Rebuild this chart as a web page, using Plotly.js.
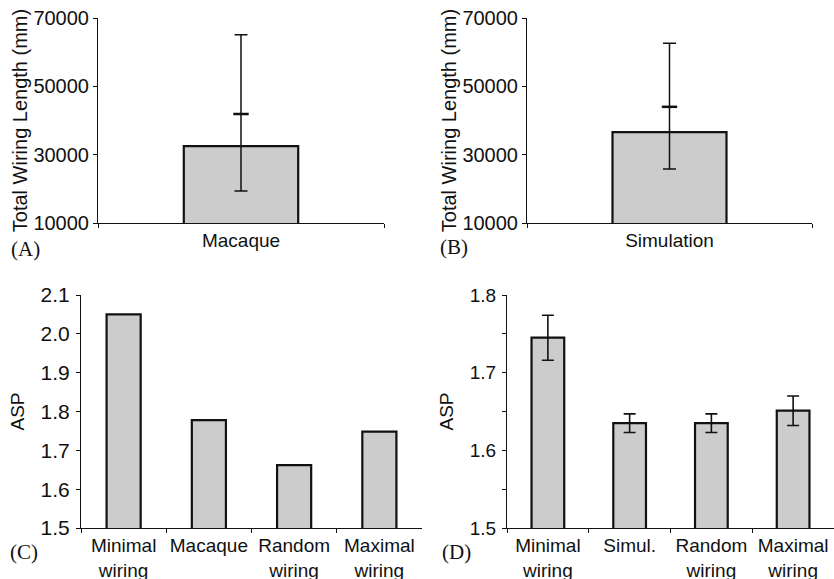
<!DOCTYPE html>
<html>
<head>
<meta charset="utf-8">
<script src="https://cdn.plot.ly/plotly-3.0.1.min.js"></script>
<style>
  html, body { margin: 0; padding: 0; background: #fff; }
  #chart { width: 834px; height: 579px; }
</style>
</head>
<body>
<div id="chart"></div>
<script>
// ---- Data ----
// Panel A: total wiring length, macaque (mm)
const catA = ["Macaque"];
const meanA = [32500];
const upperA = [65100];
const lowerA = [19400];
const midA = [41900];

// Panel B: total wiring length, simulation (mm)
const catB = ["Simulation"];
const meanB = [36600];
const upperB = [62600];
const lowerB = [25800];
const midB = [44000];

// Panel C: ASP
const catC = ["Minimal<br>wiring", "Macaque", "Random<br>wiring", "Maximal<br>wiring"];
const aspC = [2.05, 1.778, 1.662, 1.748];

// Panel D: ASP with error bars
const catD = ["Minimal<br>wiring", "Simul.", "Random<br>wiring", "Maximal<br>wiring"];
const aspD = [1.745, 1.635, 1.635, 1.651];
const errD = [0.029, 0.012, 0.012, 0.019];

const ticksAB = [10000, 30000, 50000, 70000];

// ---- Layout helpers ----
const W = 834, H = 579;
const dx = (a, b) => [a / W, Math.min(1, b / W)];
const dy = (top, bottom) => [1 - bottom / H, 1 - top / H];

const SANS = "Liberation Sans, Arial, Helvetica, sans-serif";
const SERIF = "Liberation Serif, Times New Roman, serif";
const barFill = "#cccccc";
const ink = "#111111";

function barTrace(x, y, xa, ya, err) {
  const t = {
    type: "bar", x: x, y: y, xaxis: xa, yaxis: ya,
    marker: { color: barFill, line: { color: ink, width: 2.2 } },
    hoverinfo: "x+y"
  };
  if (err) t.error_y = err;
  return t;
}

const diff = (a, b) => a.map((v, i) => v - b[i]);

const data = [
  barTrace(catA, meanA, "x", "y", {
    type: "data", symmetric: false,
    array: diff(upperA, meanA), arrayminus: diff(meanA, lowerA),
    color: ink, thickness: 1.5, width: 6.5
  }),
  { type: "scatter", mode: "markers", x: catA, y: midA, xaxis: "x", yaxis: "y",
    marker: { symbol: "line-ew", size: 11, line: { color: ink, width: 2.5 } }, hoverinfo: "y" },
  barTrace(catB, meanB, "x2", "y2", {
    type: "data", symmetric: false,
    array: diff(upperB, meanB), arrayminus: diff(meanB, lowerB),
    color: ink, thickness: 1.5, width: 6.5
  }),
  { type: "scatter", mode: "markers", x: catB, y: midB, xaxis: "x2", yaxis: "y2",
    marker: { symbol: "line-ew", size: 11, line: { color: ink, width: 2.5 } }, hoverinfo: "y" },
  barTrace(catC, aspC, "x3", "y3"),
  barTrace(catD, aspD, "x4", "y4", {
    type: "data", array: errD, color: ink, thickness: 1.6, width: 6
  })
];

function xAxis(dom, anchor, range, fsize) {
  return {
    domain: dom, anchor: anchor, type: "category", range: range,
    showline: true, linecolor: ink, linewidth: 1, automargin: false,
    ticks: "outside", ticklen: 4, tickcolor: ink, tickson: "boundaries",
    tickangle: 0,
    showgrid: false, zeroline: false, fixedrange: true,
    tickfont: { family: SANS, size: fsize, color: ink }
  };
}
function yAxis(dom, anchor, range, extra, title, tsize, fsize, standoff) {
  const t = { text: title, font: { family: SANS, size: tsize, color: ink } };
  if (standoff !== undefined) t.standoff = standoff;
  return Object.assign({
    domain: dom, anchor: anchor, range: range, automargin: false,
    showline: true, linecolor: ink, linewidth: 1,
    ticks: "outside", ticklen: 4, tickcolor: ink,
    showgrid: false, zeroline: false, fixedrange: true,
    tickfont: { family: SANS, size: fsize, color: ink },
    title: t
  }, extra);
}

const layout = {
  width: W, height: H,
  margin: { l: 0, r: 0, t: 0, b: 0 },
  paper_bgcolor: "#ffffff", plot_bgcolor: "rgba(0,0,0,0)",
  showlegend: false, bargap: 0.6,
  font: { family: SANS, color: ink },
  xaxis: xAxis(dx(98, 384), "y", [-0.5, 0.5], 19),
  yaxis: yAxis(dy(18, 223), "x", [10000, 70000],
    { tickvals: ticksAB, tickformat: "d" }, "Total Wiring Length (mm)", 20, 20),
  xaxis2: xAxis(dx(527, 812), "y2", [-0.5, 0.5], 19),
  yaxis2: yAxis(dy(18, 223), "x2", [10000, 70000],
    { tickvals: ticksAB, tickformat: "d" }, "Total Wiring Length (mm)", 20, 20),
  xaxis3: xAxis(dx(81, 422), "y3", [-0.5, 3.5], 19),
  yaxis3: yAxis(dy(295, 528), "x3", [1.5, 2.1],
    { dtick: 0.1, tick0: 1.5, tickformat: ".1f", ticklabelstandoff: 2 }, "ASP", 19, 21, 10),
  xaxis4: xAxis(dx(507, 835), "y4", [-0.5, 3.5], 19),
  yaxis4: yAxis(dy(295, 528), "x4", [1.5, 1.8],
    { dtick: 0.1, tick0: 1.5, tickformat: ".1f", ticklabelstandoff: 2,
      minor: { dtick: 0.05, tick0: 1.5, ticks: "outside", ticklen: 4, tickcolor: ink } },
    "ASP", 19, 19, 11),
  annotations: [
    ["(A)", 9, 249], ["(B)", 438, 247], ["(C)", 8, 552], ["(D)", 440, 552]
  ].map(([t, x, y]) => ({
    text: t, xref: "paper", yref: "paper", x: x / W, y: 1 - y / H,
    xanchor: "left", yanchor: "middle", showarrow: false,
    font: { family: SERIF, size: 21, color: ink }
  }))
};

Plotly.newPlot("chart", data, layout, { displayModeBar: false, staticPlot: true });
</script>
</body>
</html>
